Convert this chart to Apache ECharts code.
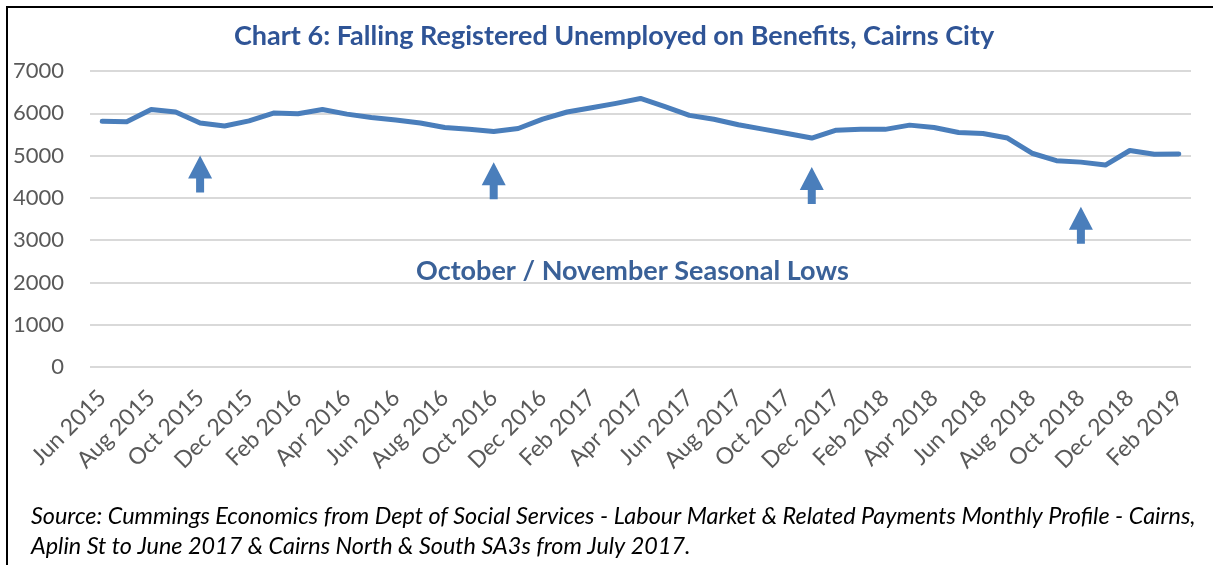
<!DOCTYPE html>
<html>
<head>
<meta charset="utf-8">
<script src="https://cdn.jsdelivr.net/npm/echarts@6/dist/echarts.min.js"></script>
<style>
html,body{margin:0;padding:0;background:#fff;}
#chart{width:1213px;height:565px;}
</style>
</head>
<body>
<div id="chart"></div>
<script>
const months = ['Jun 2015','Jul 2015','Aug 2015','Sep 2015','Oct 2015','Nov 2015','Dec 2015','Jan 2016','Feb 2016','Mar 2016','Apr 2016','May 2016','Jun 2016','Jul 2016','Aug 2016','Sep 2016','Oct 2016','Nov 2016','Dec 2016','Jan 2017','Feb 2017','Mar 2017','Apr 2017','May 2017','Jun 2017','Jul 2017','Aug 2017','Sep 2017','Oct 2017','Nov 2017','Dec 2017','Jan 2018','Feb 2018','Mar 2018','Apr 2018','May 2018','Jun 2018','Jul 2018','Aug 2018','Sep 2018','Oct 2018','Nov 2018','Dec 2018','Jan 2019','Feb 2019'];
const unemployed = [5810,5800,6090,6030,5770,5700,5820,6005,5990,6090,5980,5900,5840,5770,5665,5620,5570,5640,5860,6030,6130,6235,6350,6155,5950,5860,5730,5625,5520,5415,5600,5625,5620,5720,5665,5545,5520,5415,5055,4880,4845,4775,5120,5030,5040];
const yTicks = [0,1000,2000,3000,4000,5000,6000,7000];
const arrowMonths = ['Oct 2015','Oct 2016','Nov 2017','Oct 2018'];
const arrowTips = [5000,4840,4730,3790];
const titleText = 'Chart 6: Falling Registered Unemployed on Benefits, Cairns City';
const noteText = 'October / November Seasonal Lows';
const sourceLines = ['Source: Cummings Economics from Dept of Social Services - Labour Market & Related Payments Monthly Profile - Cairns,','Aplin St to June 2017 & Cairns North & South SA3s from July 2017.'];

const chart = echarts.init(document.getElementById('chart'));
const FONT = 'Lato, "Open Sans", sans-serif';
chart.setOption({
  animation:false,
  backgroundColor:'#fff',
  textStyle:{fontFamily:FONT},
  title:[
    {text:titleText,left:229,top:18,textStyle:{fontFamily:FONT,fontSize:27,fontWeight:'bold',color:'#2F5496'}},
    {text:noteText,left:411,top:253,textStyle:{fontFamily:FONT,fontSize:27,fontWeight:'bold',color:'#3A6198'}},
    {text:sourceLines[0],left:26,top:500,textStyle:{fontFamily:FONT,fontSize:23.4,fontStyle:'italic',fontWeight:'normal',color:'#000'}},
    {text:sourceLines[1],left:26,top:530,textStyle:{fontFamily:FONT,fontSize:23.4,fontStyle:'italic',fontWeight:'normal',color:'#000'}}
  ],
  graphic:[
    {type:'polyline',silent:true,shape:{points:[[7,565],[7,7],[1213,7]]},style:{stroke:'#000',lineWidth:2,fill:null}}
  ],
  grid:{left:90,right:22,top:71,bottom:198,containLabel:false},
  xAxis:{
    type:'category',data:months,boundaryGap:true,
    axisLine:{show:false},axisTick:{show:false},
    axisLabel:{interval:1,rotate:45,fontSize:23,color:'#595959',margin:27,fontFamily:FONT}
  },
  yAxis:{
    type:'value',min:yTicks[0],max:yTicks[yTicks.length-1],interval:1000,
    axisLine:{show:false},axisTick:{show:false},
    axisLabel:{fontSize:22,color:'#595959',margin:26,fontFamily:FONT,formatter:v=>String(v)},
    splitLine:{lineStyle:{color:'#D9D9D9',width:2}}
  },
  series:[{
    type:'line',data:unemployed,symbol:'none',smooth:false,
    lineStyle:{color:'#4A7EBB',width:5,join:'round',cap:'round'},
    itemStyle:{color:'#4A7EBB'},
    markPoint:{
      symbol:'path://M12,0 L24,23 L16,23 L16,37 L8,37 L8,23 L0,23 Z',
      symbolSize:[24,37],
      symbolOffset:[0,'50%'],
      symbolKeepAspect:false,
      label:{show:false},
      itemStyle:{color:'#4A7EBB'},
      data:arrowMonths.map((m,i)=>({coord:[m,arrowTips[i]]}))
    }
  }]
});
</script>
</body>
</html>
